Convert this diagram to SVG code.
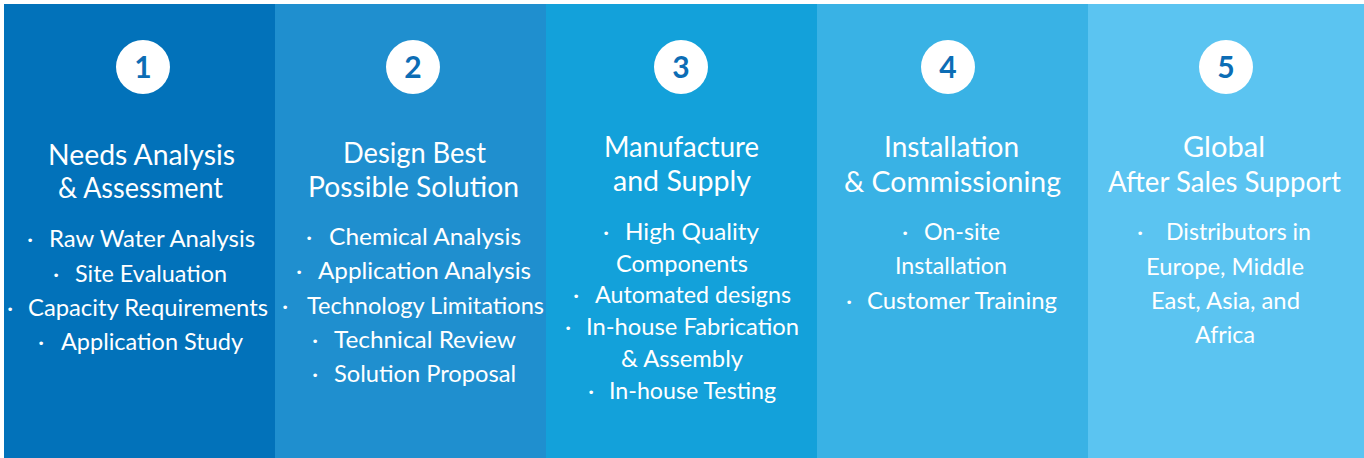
<svg xmlns="http://www.w3.org/2000/svg" width="1364" height="458" viewBox="0 0 1364 458">
<style>
.t{font-family:Lato,"Liberation Sans",sans-serif;fill:#ffffff;font-size:28px}
.h{font-family:Lato,"Liberation Sans",sans-serif;fill:#ffffff;font-size:24px}
.d{font-family:Lato,"Liberation Sans",sans-serif;fill:#ffffff;font-size:24px;text-anchor:middle}
.n{font-family:Lato,"Liberation Sans",sans-serif;fill:#0C6DB5;font-size:30px;font-weight:bold;text-anchor:middle}
.c{fill:#ffffff}
</style>
<rect x="0" y="0" width="1364" height="458" fill="#ffffff"/>

<g id="step1">
<rect x="4" y="4" width="271" height="454" fill="#0272BA"/>
<circle class="c" cx="143" cy="67" r="27"/>
<text class="n" x="143" y="78">1</text>
<text class="t" x="48" y="165" textLength="187" lengthAdjust="spacingAndGlyphs">Needs Analysis</text>
<text class="t" x="58" y="198" textLength="165" lengthAdjust="spacingAndGlyphs">&amp; Assessment</text>
<text class="d" x="30" y="247">·</text>
<text class="h" x="49" y="247" textLength="206" lengthAdjust="spacingAndGlyphs">Raw Water Analysis</text>
<text class="d" x="56" y="282">·</text>
<text class="h" x="75" y="282" textLength="152" lengthAdjust="spacingAndGlyphs">Site Evaluation</text>
<text class="d" x="10" y="316">·</text>
<text class="h" x="28" y="316" textLength="240" lengthAdjust="spacingAndGlyphs">Capacity Requirements</text>
<text class="d" x="41" y="350">·</text>
<text class="h" x="61" y="350" textLength="182" lengthAdjust="spacingAndGlyphs">Application Study</text>
</g>

<g id="step2">
<rect x="275" y="4" width="271" height="454" fill="#1F8FCF"/>
<circle class="c" cx="413" cy="67" r="27"/>
<text class="n" x="413" y="78">2</text>
<text class="t" x="343" y="163" textLength="143" lengthAdjust="spacingAndGlyphs">Design Best</text>
<text class="t" x="308" y="197" textLength="211" lengthAdjust="spacingAndGlyphs">Possible Solution</text>
<text class="d" x="309" y="245">·</text>
<text class="h" x="329" y="245" textLength="192" lengthAdjust="spacingAndGlyphs">Chemical Analysis</text>
<text class="d" x="299" y="279">·</text>
<text class="h" x="318" y="279" textLength="213" lengthAdjust="spacingAndGlyphs">Application Analysis</text>
<text class="d" x="285" y="314">·</text>
<text class="h" x="307" y="314" textLength="237" lengthAdjust="spacingAndGlyphs">Technology Limitations</text>
<text class="d" x="315" y="348">·</text>
<text class="h" x="334" y="348" textLength="182" lengthAdjust="spacingAndGlyphs">Technical Review</text>
<text class="d" x="315" y="382">·</text>
<text class="h" x="334" y="382" textLength="182" lengthAdjust="spacingAndGlyphs">Solution Proposal</text>
</g>

<g id="step3">
<rect x="546" y="4" width="271" height="454" fill="#13A1DA"/>
<circle class="c" cx="681" cy="67" r="27"/>
<text class="n" x="681" y="78">3</text>
<text class="t" x="604" y="157" textLength="155" lengthAdjust="spacingAndGlyphs">Manufacture</text>
<text class="t" x="613" y="191" textLength="138" lengthAdjust="spacingAndGlyphs">and Supply</text>
<text class="d" x="606" y="240">·</text>
<text class="h" x="625" y="240" textLength="134" lengthAdjust="spacingAndGlyphs">High Quality</text>
<text class="h" x="616" y="272" textLength="132" lengthAdjust="spacingAndGlyphs">Components</text>
<text class="d" x="576" y="303">·</text>
<text class="h" x="595" y="303" textLength="196" lengthAdjust="spacingAndGlyphs">Automated designs</text>
<text class="d" x="568" y="335">·</text>
<text class="h" x="586" y="335" textLength="213" lengthAdjust="spacingAndGlyphs">In-house Fabrication</text>
<text class="h" x="621" y="367" textLength="122" lengthAdjust="spacingAndGlyphs">&amp; Assembly</text>
<text class="d" x="591" y="399">·</text>
<text class="h" x="609" y="399" textLength="167" lengthAdjust="spacingAndGlyphs">In-house Testing</text>
</g>

<g id="step4">
<rect x="817" y="4" width="271" height="454" fill="#39B2E5"/>
<circle class="c" cx="948" cy="67" r="27"/>
<text class="n" x="948" y="78">4</text>
<text class="t" x="884" y="157" textLength="135" lengthAdjust="spacingAndGlyphs">Installation</text>
<text class="t" x="844" y="192" textLength="217" lengthAdjust="spacingAndGlyphs">&amp; Commissioning</text>
<text class="d" x="905" y="240">·</text>
<text class="h" x="924" y="240" textLength="76" lengthAdjust="spacingAndGlyphs">On-site</text>
<text class="h" x="895" y="274" textLength="112" lengthAdjust="spacingAndGlyphs">Installation</text>
<text class="d" x="849" y="309">·</text>
<text class="h" x="867" y="309" textLength="190" lengthAdjust="spacingAndGlyphs">Customer Training</text>
</g>

<g id="step5">
<rect x="1088" y="4" width="276" height="454" fill="#5BC4F1"/>
<circle class="c" cx="1226" cy="67" r="27"/>
<text class="n" x="1226" y="78">5</text>
<text class="t" x="1183" y="157" textLength="82" lengthAdjust="spacingAndGlyphs">Global</text>
<text class="t" x="1108" y="192" textLength="233" lengthAdjust="spacingAndGlyphs">After Sales Support</text>
<text class="d" x="1140" y="240">·</text>
<text class="h" x="1166" y="240" textLength="145" lengthAdjust="spacingAndGlyphs">Distributors in</text>
<text class="h" x="1146" y="275" textLength="158" lengthAdjust="spacingAndGlyphs">Europe, Middle</text>
<text class="h" x="1151" y="309" textLength="149" lengthAdjust="spacingAndGlyphs">East, Asia, and</text>
<text class="h" x="1195" y="343" textLength="60" lengthAdjust="spacingAndGlyphs">Africa</text>
</g>
</svg>
